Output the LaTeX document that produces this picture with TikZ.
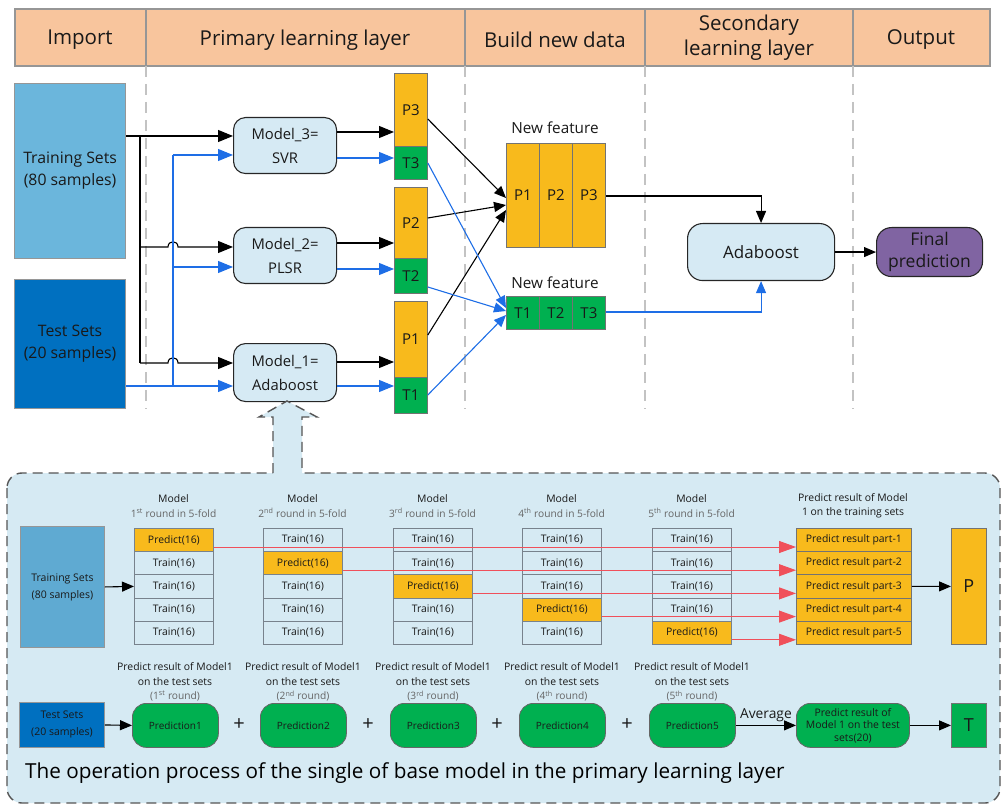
\documentclass[tikz,border=0pt]{standalone}
\usepackage{fontspec}
\setmainfont{Open Sans}
\usetikzlibrary{arrows.meta}
\definecolor{headfill}{RGB}{248,197,157}
\definecolor{headline}{RGB}{150,150,150}
\definecolor{vlinec}{RGB}{195,195,195}
\definecolor{trainblue}{RGB}{107,182,220}
\definecolor{testblue}{RGB}{0,112,192}
\definecolor{modelfill}{RGB}{214,234,244}
\definecolor{orangec}{RGB}{248,186,28}
\definecolor{greenc}{RGB}{0,176,80}
\definecolor{purplec}{RGB}{128,100,162}
\definecolor{arrblue}{RGB}{30,110,230}
\definecolor{redc}{RGB}{240,80,90}
\definecolor{panelfill}{RGB}{214,234,243}
\definecolor{panelline}{RGB}{85,85,85}
\definecolor{ptrainc}{RGB}{95,170,210}
\definecolor{cellline}{RGB}{120,130,140}
\definecolor{subgrey}{RGB}{100,100,100}
\definecolor{txt}{RGB}{25,25,25}
\begin{document}
\begin{tikzpicture}[x=1pt,y=-1pt,
  base/.style={inner sep=0pt, anchor=north west, align=center, text=txt},
  bigbox/.style={base, draw=headline, line width=1.2pt, font=\fontsize{15.8}{22}\selectfont},
  modelbox/.style={base, draw=black!85, line width=1.1pt, fill=modelfill, rounded corners=12pt, font=\fontsize{14.8}{24}\selectfont},
  pbox/.style={base, draw=black!55, line width=0.8pt, fill=orangec, font=\fontsize{15}{18}\selectfont},
  tbox/.style={base, draw=black!55, line width=0.8pt, fill=greenc, font=\fontsize{15}{18}\selectfont},
  headtxt/.style={inner sep=0pt, align=center, text=txt, font=\fontsize{20.5}{25}\selectfont},
  vdash/.style={draw=vlinec, line width=1.2pt, dash pattern=on 11pt off 7pt},
  blk/.style={draw=black, line width=1.1pt, -{Triangle[length=15pt,width=12pt]}},
  blkS/.style={draw=black, line width=1.1pt, -{Triangle[length=12pt,width=10pt]}},
  blu/.style={draw=arrblue, line width=1.1pt, -{Triangle[length=15pt,width=12pt]}},
  bluS/.style={draw=arrblue, line width=1.1pt, -{Triangle[length=12pt,width=10pt]}},
  redarr/.style={draw=redc, line width=1pt, -{Triangle[length=17pt,width=12pt]}},
  cell/.style={base, draw=cellline, line width=0.8pt, minimum width=79pt, minimum height=23.2pt, font=\fontsize{10.4}{11}\selectfont},
  small/.style={inner sep=0pt, align=center, text=txt, font=\fontsize{10.4}{14}\selectfont},
  smallg/.style={inner sep=0pt, align=center, text=subgrey, font=\fontsize{10.2}{14}\selectfont},
  predbox/.style={base, draw=black!60, line width=0.8pt, fill=greenc, rounded corners=14pt, minimum width=86pt, minimum height=44pt, font=\fontsize{10}{13}\selectfont}
]
\useasboundingbox (0,0) rectangle (1002,805);

% ---------- header ----------
\draw[draw=headline, line width=1.2pt, fill=headfill] (15,9) rectangle (990,66);
\foreach \x in {146,465,645,853} \draw[draw=headline, line width=1.2pt] (\x,9) -- (\x,66);
\node[headtxt] (h1) at (80,40) {Import};
\node[headtxt] (h2) at (305,40) {Primary learning layer};
\node[headtxt] (h3) at (555,40) {Build new data};
\node[headtxt] (h4) at (749,38) {Secondary\\learning layer};
\node[headtxt] (h5) at (921,40) {Output};

% dashed separators
\foreach \x in {146,465,645,853} \draw[vdash] (\x,66) -- (\x,409);

% ---------- top diagram ----------
\node[bigbox, fill=trainblue, minimum width=111pt, minimum height=175pt] (train) at (14,83) {Training Sets\\(80 samples)};
\node[bigbox, fill=testblue, minimum width=111pt, minimum height=129pt] (test) at (14,279) {Test Sets\\(20 samples)};

\node[modelbox, minimum width=103pt, minimum height=56pt] (m3) at (233,117) {Model\_3=\\SVR};
\node[modelbox, minimum width=103pt, minimum height=56pt] (m2) at (233,227) {Model\_2=\\PLSR};
\node[modelbox, minimum width=103pt, minimum height=58pt] (m1) at (233,343) {Model\_1=\\Adaboost};

\node[pbox, minimum width=33pt, minimum height=73pt] (P3) at (394,73) {P3};
\node[tbox, minimum width=33pt, minimum height=33pt] (T3) at (394,146) {T3};
\node[pbox, minimum width=33pt, minimum height=71pt] (P2) at (394,187) {P2};
\node[tbox, minimum width=33pt, minimum height=35pt] (T2) at (394,258) {T2};
\node[pbox, minimum width=33pt, minimum height=76pt] (P1) at (394,301) {P1};
\node[tbox, minimum width=33pt, minimum height=36pt] (T1) at (394,377) {T1};

\node[pbox, minimum width=33pt, minimum height=104pt] (NP1) at (506,143) {P1};
\node[pbox, minimum width=33pt, minimum height=104pt] (NP2) at (539,143) {P2};
\node[pbox, minimum width=33pt, minimum height=104pt] (NP3) at (572,143) {P3};
\node[tbox, minimum width=33pt, minimum height=33pt] (NT1) at (506,296) {T1};
\node[tbox, minimum width=33pt, minimum height=33pt] (NT2) at (539,296) {T2};
\node[tbox, minimum width=33pt, minimum height=33pt] (NT3) at (572,296) {T3};
\node[inner sep=0pt, text=txt, font=\fontsize{15.3}{16}\selectfont] (nf1) at (555,128) {New feature};
\node[inner sep=0pt, text=txt, font=\fontsize{15.3}{16}\selectfont] (nf2) at (555,283) {New feature};

\node[modelbox, rounded corners=15pt, minimum width=147pt, minimum height=57pt, font=\fontsize{17}{20}\selectfont] (ada) at (687,223) {Adaboost};
\node[base, draw=black!85, line width=1.1pt, fill=purplec, rounded corners=15pt, minimum width=106pt, minimum height=49pt, font=\fontsize{17.5}{22}\selectfont] (final) at (876,227) {Final\\prediction};

% helper levels
\coordinate (y119) at (0,119); \coordinate (y132) at (0,132); \coordinate (y136) at (0,136);
\coordinate (y155) at (0,155); \coordinate (y158) at (0,158); \coordinate (y163) at (0,163);
\coordinate (y196) at (0,196); \coordinate (y198) at (0,198); \coordinate (y205) at (0,205);
\coordinate (y210) at (0,210); \coordinate (y218) at (0,218); \coordinate (y243) at (0,243);
\coordinate (y247) at (0,247); \coordinate (y267) at (0,267); \coordinate (y269) at (0,269);
\coordinate (y287) at (0,287); \coordinate (y308) at (0,308); \coordinate (y311) at (0,311);
\coordinate (y312) at (0,312); \coordinate (y315) at (0,315); \coordinate (y335) at (0,335);
\coordinate (y362) at (0,362); \coordinate (y363) at (0,363); \coordinate (y386) at (0,386);
\coordinate (y395) at (0,395);
\coordinate (jb1) at (140,136); \coordinate (jb2) at (140,247); \coordinate (jb3) at (140,363);
\coordinate (ju1) at (173,155); \coordinate (ju2) at (173,267); \coordinate (ju3) at (173,386);

% training -> models (black)
\draw[blk] (train.east |- y136) -- (m3.west |- y136);
\draw[draw=black, line width=1.1pt] (jb1) -- (jb3);
\draw[blk] (jb2) -- (168,247) .. controls (168,240) and (178,240) .. (178,247) -- (m2.west |- y247);
\draw[blk] (jb3) -- (168,363) .. controls (168,356) and (178,356) .. (178,363) -- (m1.west |- y363);
% test -> models (blue)
\draw[blu] (test.east |- y386) -- (m1.west |- y386);
\draw[draw=arrblue, line width=1.1pt] (ju3) -- (ju1);
\draw[blu] (ju1) -- (m3.west |- y155);
\draw[blu] (ju2) -- (m2.west |- y267);

% models -> P/T
\draw[blk] (m3.east |- y132) -- (P3.west |- y132);
\draw[blu] (m3.east |- y158) -- (T3.west |- y158);
\draw[blk] (m2.east |- y243) -- (P2.west |- y243);
\draw[blu] (m2.east |- y269) -- (T2.west |- y269);
\draw[blk] (m1.east |- y362) -- (P1.west |- y362);
\draw[blu] (m1.east |- y386) -- (T1.west |- y386);

% P/T -> new features
\draw[blkS] (P3.east |- y119) -- (NP1.west |- y198);
\draw[blkS] (P2.east |- y218) -- (NP1.west |- y205);
\draw[blkS] (P1.east |- y335) -- (NP1.west |- y210);
\draw[bluS] (T3.east |- y163) -- (NT1.west |- y308);
\draw[bluS] (T2.east |- y287) -- (NT1.west |- y311);
\draw[bluS] (T1.east |- y395) -- (NT1.west |- y315);

% new features -> adaboost -> final
\draw[blkS] (NP3.east |- y196) -| (ada.north);
\draw[bluS] (NT3.east |- y312) -| (ada.south);
\draw[blkS] (ada.east) -- (final.west);

% ---------- bottom panel ----------
\draw[draw=panelline, line width=1.4pt, dash pattern=on 10pt off 6pt, fill=panelfill, rounded corners=15pt] (7,473) rectangle (1000,803);
\fill[panelfill] (273,478) -- (273,417) -- (259,417) -- (287,401) -- (317,417) -- (302,417) -- (302,478) -- cycle;
\draw[draw=panelline, line width=1.4pt, dash pattern=on 10pt off 6pt] (273,473) -- (273,417) -- (259,417) -- (287,401) -- (317,417) -- (302,417) -- (302,473);

\node[base, draw=headline, line width=0.9pt, fill=ptrainc, minimum width=84pt, minimum height=121pt, font=\fontsize{10.5}{17}\selectfont] (ptrain) at (20,526) {Training Sets\\(80 samples)};

\foreach \i/\x/\s in {1/134/st,2/263/nd,3/393/rd,4/522/th,5/652/th}{
  \node[small] (mh\i) at (\x+39.5,499) {Model};
  \node[smallg] (ms\i) at (\x+39.5,513) {\i\textsuperscript{\s} round in 5-fold};
  \foreach \j in {1,...,5}{
    \pgfmathsetmacro{\yy}{528+(\j-1)*23.2}
    \ifnum\i=\j
      \node[cell, fill=orangec] (c\i\j) at (\x,\yy) {Predict(16)};
    \else
      \node[cell, fill=panelfill] (c\i\j) at (\x,\yy) {Train(16)};
    \fi
  }
}
\node[small] (rh1) at (853,498) {Predict result of Model};
\node[small] (rh2) at (853,513) {1 on the training sets};
\foreach \j in {1,...,5}{
  \pgfmathsetmacro{\yy}{528+(\j-1)*23.2}
  \node[cell, fill=orangec, draw=black!55, minimum width=115pt] (res\j) at (796,\yy) {Predict result part-\j};
}
\node[pbox, minimum width=35pt, minimum height=116pt, font=\fontsize{18}{20}\selectfont] (Pbig) at (951,528) {P};

\draw[blkS] (ptrain.east) -- (c13.west);
\foreach \i in {1,...,5} \draw[redarr] ([yshift=-7pt]c\i\i.east) -- ([yshift=-7pt]res\i.west);
\draw[blkS] (res3.east) -- (Pbig.west);

% prediction row
\node[base, draw=headline, line width=0.9pt, fill=testblue, minimum width=85pt, minimum height=45pt, font=\fontsize{10.5}{17}\selectfont] (ptest) at (19,702) {Test Sets\\(20 samples)};
\foreach \i/\x/\s in {1/132/st,2/260/nd,3/390/rd,4/519/th,5/649/th}{
  \node[small] (pl\i a) at (\x+43,667) {Predict result of Model1};
  \node[small] (pl\i b) at (\x+43,682) {on the test sets};
  \node[smallg] (pl\i c) at (\x+43,696) {(\i\textsuperscript{\s} round)};
  \node[predbox] (pred\i) at (\x,703) {Prediction\i};
}
\foreach \k/\x in {1/239,2/368,3/497,4/627} \node[inner sep=0pt, text=txt, font=\fontsize{20}{22}\selectfont] (plus\k) at (\x,725) {+};
\node[predbox, minimum width=113pt, font=\fontsize{10.4}{12.5}\selectfont] (pres) at (796,703) {Predict result of\\Model 1 on the test\\sets(20)};
\node[tbox, minimum width=35pt, minimum height=44pt, font=\fontsize{18}{20}\selectfont] (Tbig) at (951,703) {T};

\draw[blkS] (ptest.east) -- (pred1.west);
\draw[blkS] (pred5.east) -- node[above=3pt, inner sep=0pt, text=txt, font=\fontsize{13.8}{14}\selectfont] (avg) {Average} (pres.west);
\draw[blkS] (pres.east) -- (Tbig.west);

\node[inner sep=0pt, anchor=west, text=black, font=\fontsize{20.7}{24}\selectfont] (caption) at (25,773) {The operation process of the single of base model in the primary learning layer};
\end{tikzpicture}
\end{document}
